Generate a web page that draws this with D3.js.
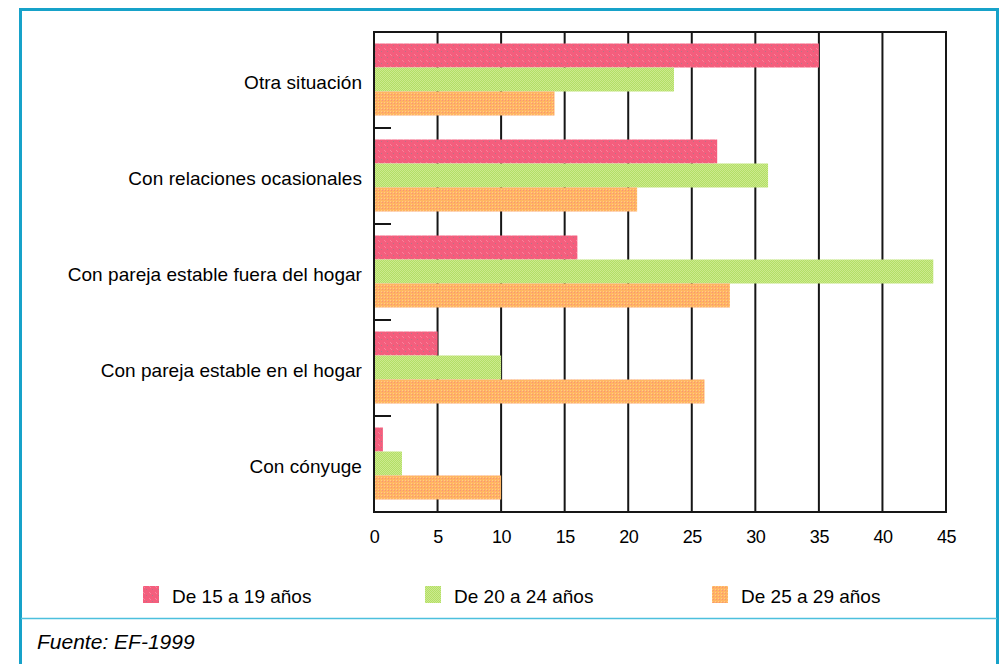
<!DOCTYPE html>
<html>
<head>
<meta charset="utf-8">
<script src="https://cdn.jsdelivr.net/npm/d3@7"></script>
<style>
  html, body { margin: 0; padding: 0; background: #fff; }
  svg { display: block; font-family: "Liberation Sans", Arial, sans-serif; }
</style>
</head>
<body>
<svg id="chart" width="1003" height="664"></svg>
<script>
// Situación de pareja por grupo de edad (%)
const categories = [
  "Otra situación",
  "Con relaciones ocasionales",
  "Con pareja estable fuera del hogar",
  "Con pareja estable en el hogar",
  "Con cónyuge"
];
const seriesNames = ["De 15 a 19 años", "De 20 a 24 años", "De 25 a 29 años"];
const values15to19 = [35, 27, 16, 5, 0.7];
const values20to24 = [23.6, 31, 44, 10, 2.2];
const values25to29 = [14.2, 20.7, 28, 26, 10];
const tickValues = [0, 5, 10, 15, 20, 25, 30, 35, 40, 45];
const sourceNote = "Fuente: EF-1999";

const seriesValues = [values15to19, values20to24, values25to29];

const svg = d3.select("#chart");

// Dithered fills for the three series
const defs = svg.append("defs");
function dither(id, base, light, dot, size) {
  const p = defs.append("pattern")
    .attr("id", id).attr("patternUnits", "userSpaceOnUse")
    .attr("width", size).attr("height", size);
  p.append("rect").attr("width", size).attr("height", size).attr("fill", base);
  p.append("rect").attr("x", 0).attr("y", 0).attr("width", 1).attr("height", 1).attr("fill", light);
  p.append("rect").attr("x", 1).attr("y", 1).attr("width", 1).attr("height", 1).attr("fill", light);
  if (dot) p.append("rect").attr("x", Math.floor(size / 2)).attr("y", Math.floor(size / 2))
    .attr("width", 1).attr("height", 1).attr("fill", dot);
}
dither("fill15", "#f45e7d", "#f8839c", "#b07888", 6);
dither("fill20", "#b3df66", "#cdea8f", null, 2);
dither("fill25", "#ffb562", "#ffc98a", "#f7907a", 3);
const fills = ["url(#fill15)", "url(#fill20)", "url(#fill25)"];

// Outer frame
svg.append("rect")
  .attr("x", 20.5).attr("y", 9.5).attr("width", 977).attr("height", 670)
  .attr("fill", "none").attr("stroke", "#17a2c9").attr("stroke-width", 3);
svg.append("line")
  .attr("x1", 21).attr("x2", 997).attr("y1", 618.5).attr("y2", 618.5)
  .attr("stroke", "#4dc0dd").attr("stroke-width", 1.5);

// Scales
const x = d3.scaleLinear().domain([0, 45]).range([374, 946]);
const y = d3.scaleBand().domain(categories).range([32, 512]);
const ySub = d3.scaleBand().domain(seriesNames).range([11.5, 83.5]);

const plot = svg.append("g");
const lineColor = "#161616";

// Vertical gridlines
plot.selectAll("line.grid").data(tickValues.slice(1)).join("line")
  .attr("class", "grid")
  .attr("x1", d => x(d)).attr("x2", d => x(d))
  .attr("y1", y.range()[0]).attr("y2", y.range()[1])
  .attr("stroke", lineColor).attr("stroke-width", 2);

// Top and bottom border, left axis
plot.append("line").attr("x1", x(0) - 1).attr("x2", x(45) + 1)
  .attr("y1", y.range()[0]).attr("y2", y.range()[0])
  .attr("stroke", lineColor).attr("stroke-width", 2);
plot.append("line").attr("x1", x(0) - 1).attr("x2", x(45) + 1)
  .attr("y1", y.range()[1]).attr("y2", y.range()[1])
  .attr("stroke", lineColor).attr("stroke-width", 2);
plot.append("line").attr("x1", x(0)).attr("x2", x(0))
  .attr("y1", y.range()[0]).attr("y2", y.range()[1])
  .attr("stroke", lineColor).attr("stroke-width", 2);

// Category separator ticks on the left axis
plot.selectAll("line.sep").data(categories.slice(1)).join("line")
  .attr("class", "sep")
  .attr("x1", x(0)).attr("x2", x(0) + 17)
  .attr("y1", d => y(d)).attr("y2", d => y(d))
  .attr("stroke", lineColor).attr("stroke-width", 2);

// Bars
categories.forEach((cat, ci) => {
  seriesNames.forEach((s, si) => {
    const v = seriesValues[si][ci];
    plot.append("rect")
      .attr("x", x(0) + 1)
      .attr("y", y(cat) + ySub(s))
      .attr("width", x(v) - x(0) - 1)
      .attr("height", ySub.bandwidth())
      .attr("fill", fills[si]);
  });
});

// Category labels
svg.selectAll("text.cat").data(categories).join("text")
  .attr("class", "cat")
  .attr("x", 362)
  .attr("y", d => y(d) + y.bandwidth() / 2 + 8.5)
  .attr("text-anchor", "end")
  .attr("font-size", 19)
  .attr("letter-spacing", 0.05)
  .attr("fill", "#000")
  .text(d => d);

// X axis labels
const xAxis = d3.axisBottom(x).tickValues(tickValues).tickSize(0).tickPadding(0)
  .tickFormat(d3.format("d"));
const gx = svg.append("g").attr("transform", "translate(0,530)").call(xAxis);
gx.select(".domain").remove();
gx.selectAll("text")
  .attr("font-size", 18)
  .attr("font-family", "\"Liberation Sans\", Arial, sans-serif")
  .attr("fill", "#000")
  .attr("dy", "0.71em")
  .attr("letter-spacing", -0.5);

// Legend
const legendX = [143, 425, 712];
const legend = svg.selectAll("g.leg").data(seriesNames).join("g")
  .attr("class", "leg")
  .attr("transform", (d, i) => `translate(${legendX[i]},586)`);
legend.append("rect").attr("width", 16).attr("height", 17)
  .attr("fill", (d, i) => fills[i]);
legend.append("text")
  .attr("x", 29).attr("y", 16.5)
  .attr("font-size", 19)
  .attr("letter-spacing", 0)
  .attr("fill", "#000")
  .text(d => d);

// Source note
svg.append("text")
  .attr("x", 37).attr("y", 649)
  .attr("font-size", 21)
  .attr("font-style", "italic")
  .attr("fill", "#000")
  .text(sourceNote);
</script>
</body>
</html>
